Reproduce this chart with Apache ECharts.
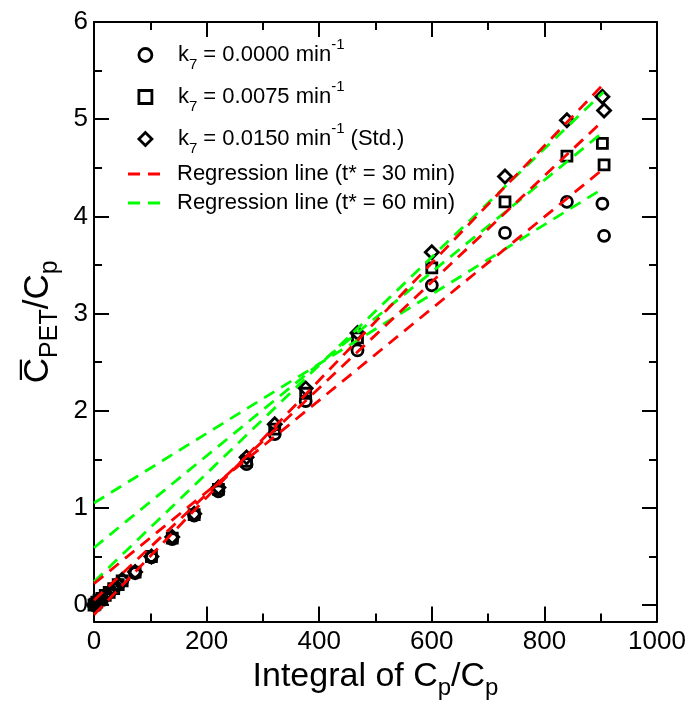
<!DOCTYPE html>
<html><head><meta charset="utf-8">
<script src="https://cdn.jsdelivr.net/npm/echarts@6/dist/echarts.min.js"></script>
<style>html,body{margin:0;padding:0;background:#fff}#c{width:692px;height:705px}</style>
</head><body><div id="c"></div>
<script>
// ---- data ----
const xValues  = [0, 2, 5, 9, 14, 20, 27, 35, 43, 50, 73, 102, 139, 178, 221, 271, 321, 376, 468, 600, 730, 840, 903, 906];
const circleY  = [0.00, 0.01, 0.03, 0.05, 0.07, 0.10, 0.13, 0.17, 0.21, 0.25, 0.33, 0.49, 0.68, 0.92, 1.17, 1.45, 1.76, 2.10, 2.62, 3.29, 3.83, 4.15, 4.13, 3.80];
const squareY  = [0.00, 0.01, 0.03, 0.05, 0.07, 0.10, 0.13, 0.17, 0.21, 0.25, 0.34, 0.50, 0.69, 0.93, 1.19, 1.48, 1.81, 2.18, 2.75, 3.47, 4.15, 4.62, 4.75, 4.53];
const diamondY = [0.00, 0.01, 0.03, 0.05, 0.07, 0.10, 0.13, 0.17, 0.21, 0.26, 0.34, 0.50, 0.70, 0.94, 1.21, 1.52, 1.86, 2.23, 2.80, 3.63, 4.41, 4.99, 5.23, 5.09];

// regression lines: values at the two ends of lineX
const lineX = [0, 905];
const red30Circle   = [0.22, 4.49];
const red30Square   = [0.05, 4.99];
const red30Diamond  = [-0.10, 5.36];
const green60Circle  = [1.05, 4.29];
const green60Square  = [0.59, 4.87];
const green60Diamond = [0.24, 5.28];

const yMajorTicks = [0, 1, 2, 3, 4, 5, 6];
const yMinorTicks = [0.5, 1.5, 2.5, 3.5, 4.5, 5.5];

const names = {
  c: 'k7 = 0.0000 min-1',
  s: 'k7 = 0.0075 min-1',
  d: 'k7 = 0.0150 min-1 (Std.)',
  r: 'Regression line (t* = 30 min)',
  g: 'Regression line (t* = 60 min)'
};
const legendRich = {};
legendRich[names.c] = '{k0|k}{s|7}{m| = 0.0000 min}{p|-1}';
legendRich[names.s] = '{k0|k}{s|7}{m| = 0.0075 min}{p|-1}';
legendRich[names.d] = '{k0|k}{s|7}{m| = 0.0150 min}{p|-1}{m| (Std.)}';
legendRich[names.r] = '{r0|Regression line (t* = 30 min)}';
legendRich[names.g] = '{r0|Regression line (t* = 60 min)}';

const FONT = 'Liberation Sans, Arial, Helvetica, sans-serif';
const pairs = (xs, ys) => xs.map((x, i) => [x, ys[i]]);

const chart = echarts.init(document.getElementById('c'), null, {renderer: 'canvas'});
const yMin = -0.17, yMax = 6;
const tickBase = {show: true, inside: true, lineStyle: {color: '#000', width: 2}};

function yAxisDef(pos, major, labels, withName) {
  const a = {
    type: 'value', position: pos, min: yMin, max: yMax,
    axisLine: {show: major, onZero: false, lineStyle: {color: '#000', width: 2}},
    axisTick: Object.assign({}, tickBase, {length: major ? 15 : 8, customValues: major ? yMajorTicks : yMinorTicks}),
    axisLabel: labels ? {show: true, customValues: yMajorTicks, fontFamily: FONT, fontSize: 26, color: '#000', margin: 6} : {show: false},
    splitLine: {show: false}
  };
  if (withName) {
    a.name = '{m|C\u0305}{s|PET}{m|/C}{s|p}';
    a.nameLocation = 'middle';
    a.nameGap = 13;
    a.nameRotate = 90;
    a.nameTextStyle = {
      fontFamily: FONT, color: '#000',
      rich: {
        m: {fontFamily: FONT, fontSize: 35, lineHeight: 35, verticalAlign: 'top', color: '#000'},
        s: {fontFamily: FONT, fontSize: 25, lineHeight: 58, verticalAlign: 'middle', color: '#000'}
      }
    };
  }
  return a;
}
function xAxisDef(pos, labels, withName) {
  const a = {
    type: 'value', position: pos, min: 0, max: 1000, interval: 200,
    axisLine: {show: true, onZero: false, lineStyle: {color: '#000', width: 2}},
    axisTick: Object.assign({}, tickBase, {length: 15}),
    minorTick: {show: true, splitNumber: 2, length: 8, lineStyle: {color: '#000', width: 2}},
    axisLabel: labels ? {show: true, fontFamily: FONT, fontSize: 26, color: '#000', margin: 7,
                         showMaxLabel: true, formatter: v => String(v)} : {show: false},
    splitLine: {show: false}, minorSplitLine: {show: false}
  };
  if (withName) {
    a.name = '{m|Integral of C}{s|p}{m|/C}{s|p}';
    a.nameLocation = 'middle';
    a.nameGap = 26;
    a.nameTextStyle = {
      fontFamily: FONT, color: '#000',
      rich: {
        m: {fontFamily: FONT, fontSize: 34, lineHeight: 34, verticalAlign: 'top', color: '#000'},
        s: {fontFamily: FONT, fontSize: 24, lineHeight: 57, verticalAlign: 'middle', color: '#000'}
      }
    };
  }
  return a;
}

const markerStyle = {color: 'transparent', borderColor: '#000', borderWidth: 2.8, opacity: 1};
function scatter(name, sym, size, ys) {
  return {type: 'scatter', name: name, symbol: sym, symbolSize: size, data: pairs(xValues, ys),
    itemStyle: markerStyle, z: 2, xAxisIndex: 0, yAxisIndex: 0};
}
function line(name, color, ends) {
  return {type: 'line', name: name, data: pairs(lineX, ends), symbol: 'none', showSymbol: false,
    lineStyle: {color: color, width: 2.8, type: [12, 8]}, itemStyle: {color: color, borderWidth: 0}, z: 3,
    xAxisIndex: 0, yAxisIndex: 0};
}

const richLegend = {
  k0: {fontFamily: FONT, fontSize: 22, lineHeight: 35, verticalAlign: 'middle', padding: [0, 0, 0, 21], color: '#000'},
  m:  {fontFamily: FONT, fontSize: 22, lineHeight: 35, verticalAlign: 'middle', color: '#000'},
  s:  {fontFamily: FONT, fontSize: 15, lineHeight: 16, verticalAlign: 'bottom', color: '#000'},
  p:  {fontFamily: FONT, fontSize: 15, lineHeight: 20, verticalAlign: 'top', color: '#000'},
  r0: {fontFamily: FONT, fontSize: 22, lineHeight: 22, verticalAlign: 'middle', padding: [0, 0, 0, 12], color: '#000'}
};
const dashIcon = 'path://M0,0h12v2.8H0z M20,0h12v2.8H20z';

chart.setOption({
  animation: false,
  backgroundColor: '#fff',
  grid: {left: 94, right: 35, top: 22, bottom: 83, containLabel: false},
  xAxis: [xAxisDef('bottom', true, true), xAxisDef('top', false, false)],
  yAxis: [yAxisDef('left', true, true, true), yAxisDef('right', true, false, false),
          yAxisDef('left', false, false, false), yAxisDef('right', false, false, false)],
  legend: [{
    orient: 'vertical', left: 137.5, top: 37.5, padding: 0, itemGap: 7,
    itemWidth: 13, itemHeight: 13,
    itemStyle: {borderWidth: 2.8, borderColor: '#000', color: 'transparent', opacity: 1},
    data: [{name: names.c, icon: 'circle'}, {name: names.s, icon: 'rect'}, {name: names.d, icon: 'diamond'}],
    formatter: n => legendRich[n],
    textStyle: {fontFamily: FONT, fontSize: 22, color: '#000', rich: richLegend}
  }, {
    orient: 'vertical', left: 128, top: 163, padding: 0, itemGap: 7,
    itemWidth: 32, itemHeight: 14,
    data: [{name: names.r, icon: dashIcon}, {name: names.g, icon: dashIcon}],
    formatter: n => legendRich[n],
    textStyle: {fontFamily: FONT, fontSize: 22, color: '#000', rich: richLegend}
  }],
  series: [
    scatter(names.c, 'circle', 11, circleY),
    scatter(names.s, 'rect', 10, squareY),
    scatter(names.d, 'diamond', 13, diamondY),
    line(names.g, '#00ff00', green60Circle),
    line(names.g, '#00ff00', green60Square),
    line(names.g, '#00ff00', green60Diamond),
    line(names.r, '#ff0000', red30Circle),
    line(names.r, '#ff0000', red30Square),
    line(names.r, '#ff0000', red30Diamond)
  ]
});
</script></body></html>
